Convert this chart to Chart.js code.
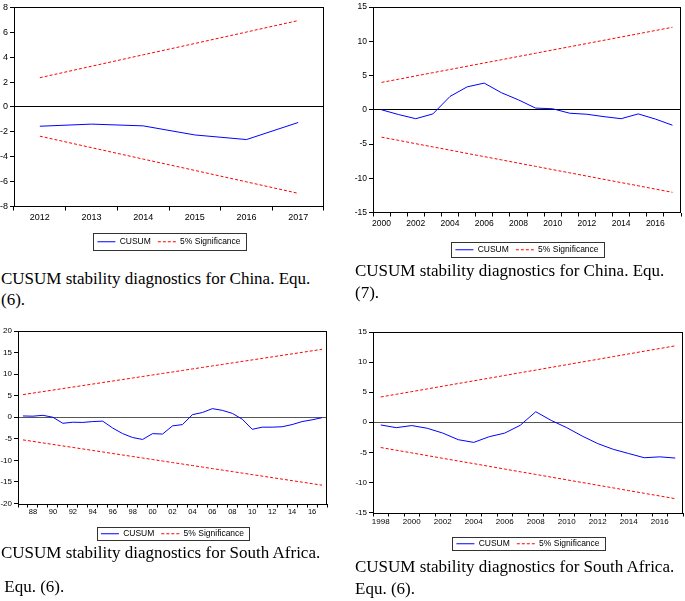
<!DOCTYPE html>
<html>
<head>
<meta charset="utf-8">
<script src="https://cdn.jsdelivr.net/npm/chart.js@4.4.0/dist/chart.umd.min.js"></script>
<style>
  body { margin: 0; background: #fff; }
  #page { position: relative; width: 685px; height: 601px; overflow: hidden; background: #fff; }
  .panel { position: absolute; }
  .caption {
    position: absolute;
    font-family: "Liberation Serif", "Times New Roman", serif;
    font-size: 17px;
    line-height: 17px;
    color: #000;
    white-space: pre;
  }
</style>
</head>
<body>
<div id="page">
  <div class="panel" style="left:0px;top:0px;width:340px;height:256px"><canvas id="chinaEq6"></canvas></div>
  <div class="panel" style="left:340px;top:0px;width:345px;height:264px"><canvas id="chinaEq7"></canvas></div>
  <div class="panel" style="left:0px;top:320px;width:340px;height:228px"><canvas id="saEq6a"></canvas></div>
  <div class="panel" style="left:340px;top:320px;width:345px;height:238px"><canvas id="saEq6b"></canvas></div>

  <div class="caption" style="left:1px;top:270px">CUSUM stability diagnostics for China. Equ.</div>
  <div class="caption" style="left:1px;top:291px">(6).</div>
  <div class="caption" style="left:355px;top:262px">CUSUM stability diagnostics for China. Equ.</div>
  <div class="caption" style="left:355px;top:284px">(7).</div>
  <div class="caption" style="left:1px;top:544px">CUSUM stability diagnostics for South Africa.</div>
  <div class="caption" style="left:0px;top:578px"> Equ. (6).</div>
  <div class="caption" style="left:355px;top:558px">CUSUM stability diagnostics for South Africa.</div>
  <div class="caption" style="left:355px;top:580px">Equ. (6).</div>
</div>

<script>
// China, Equ. (6)
const chinaEq6Years = ['2012', '2013', '2014', '2015', '2016', '2017'];
const chinaEq6Cusum = [-1.55, -1.38, -1.52, -2.25, -2.62, -1.25];
const chinaEq6Upper = [2.35, 3.27, 4.19, 5.10, 6.02, 6.94];
const chinaEq6Lower = [-2.35, -3.27, -4.19, -5.10, -6.02, -6.94];

// China, Equ. (7)
const chinaEq7Years = ['2000', '2001', '2002', '2003', '2004', '2005', '2006', '2007', '2008',
  '2009', '2010', '2011', '2012', '2013', '2014', '2015', '2016', '2017'];
const chinaEq7Cusum = [0.0, -0.7, -1.3, -0.6, 1.95, 3.35, 3.9, 2.5, 1.45,
  0.25, 0.15, -0.5, -0.65, -1.0, -1.3, -0.6, -1.35, -2.25];
const chinaEq7Upper = [4.00, 4.47, 4.95, 5.42, 5.89, 6.37, 6.84, 7.31, 7.79,
  8.26, 8.74, 9.21, 9.68, 10.16, 10.63, 11.10, 11.58, 12.05];
const chinaEq7Lower = [-4.00, -4.47, -4.95, -5.42, -5.89, -6.37, -6.84, -7.31, -7.79,
  -8.26, -8.74, -9.21, -9.68, -10.16, -10.63, -11.10, -11.58, -12.05];

// South Africa, Equ. (6), 1987-2017
const saEq6aYears = ['1987', '1988', '1989', '1990', '1991', '1992', '1993', '1994', '1995', '1996',
  '1997', '1998', '1999', '2000', '2001', '2002', '2003', '2004', '2005', '2006',
  '2007', '2008', '2009', '2010', '2011', '2012', '2013', '2014', '2015', '2016', '2017'];
const saEq6aCusum = [0.3, 0.25, 0.45, 0.0, -1.4, -1.15, -1.2, -1.0, -0.9, -2.5,
  -3.8, -4.7, -5.15, -3.8, -3.9, -2.0, -1.7, 0.6, 1.1, 2.0,
  1.6, 0.9, -0.45, -2.8, -2.3, -2.3, -2.2, -1.7, -1.0, -0.6, -0.1];
const saEq6aUpper = [5.25, 5.60, 5.95, 6.30, 6.65, 7.00, 7.35, 7.70, 8.05, 8.40,
  8.75, 9.10, 9.45, 9.80, 10.15, 10.50, 10.85, 11.20, 11.55, 11.90,
  12.25, 12.60, 12.95, 13.30, 13.65, 14.00, 14.35, 14.70, 15.05, 15.40, 15.75];
const saEq6aLower = [-5.25, -5.60, -5.95, -6.30, -6.65, -7.00, -7.35, -7.70, -8.05, -8.40,
  -8.75, -9.10, -9.45, -9.80, -10.15, -10.50, -10.85, -11.20, -11.55, -11.90,
  -12.25, -12.60, -12.95, -13.30, -13.65, -14.00, -14.35, -14.70, -15.05, -15.40, -15.75];

// South Africa, Equ. (6), 1998-2017
const saEq6bYears = ['1998', '1999', '2000', '2001', '2002', '2003', '2004', '2005', '2006', '2007',
  '2008', '2009', '2010', '2011', '2012', '2013', '2014', '2015', '2016', '2017'];
const saEq6bCusum = [-0.45, -0.9, -0.55, -1.0, -1.8, -2.9, -3.35, -2.4, -1.8, -0.5,
  1.75, 0.3, -0.9, -2.3, -3.55, -4.5, -5.2, -5.9, -5.75, -5.95];
const saEq6bUpper = [4.20, 4.65, 5.09, 5.54, 5.99, 6.44, 6.88, 7.33, 7.78, 8.23,
  8.67, 9.12, 9.57, 10.02, 10.46, 10.91, 11.36, 11.81, 12.25, 12.70];
const saEq6bLower = [-4.20, -4.65, -5.09, -5.54, -5.99, -6.44, -6.88, -7.33, -7.78, -8.23,
  -8.67, -9.12, -9.57, -10.02, -10.46, -10.91, -11.36, -11.81, -12.25, -12.70];

// Legend text
const legendNames = ['CUSUM', '5% Significance'];

// Draws the box round the plot area and round the legend, EViews style
const framePlugin = {
  id: 'frame',
  afterDraw(chart, args, opts) {
    const ctx = chart.ctx;
    const a = chart.chartArea;
    ctx.save();
    ctx.strokeStyle = '#000';
    ctx.lineWidth = 1;
    ctx.setLineDash([]);
    ctx.strokeRect(Math.round(a.left) + 0.5, Math.round(a.top) + 0.5,
      Math.round(a.right - a.left) - 1, Math.round(a.bottom - a.top));

    const boxes = chart.legend && chart.legend.legendHitBoxes;
    if (boxes && boxes.length) {
      const first = boxes[0];
      const last = boxes[boxes.length - 1];
      const cy = first.top + first.height / 2;
      const left = Math.round(first.left - 4) + 0.5;
      const right = Math.round(last.left + last.width + 5) + 0.5;
      const h = opts.boxHeight || 15;
      ctx.strokeStyle = '#333';
      ctx.strokeRect(left, Math.round(cy - h / 2) + 0.5, right - left, h);
    }
    ctx.restore();
  }
};

// point-style legend items lose the dataset dash, so put it back
function legendLabels(chart) {
  const items = Chart.defaults.plugins.legend.labels.generateLabels(chart);
  items.forEach(item => {
    const ds = chart.data.datasets[item.datasetIndex];
    item.lineDash = ds.borderDash || [];
    item.strokeStyle = ds.borderColor;
    item.lineWidth = 1;
  });
  return items.filter(item => item.datasetIndex < 2);
}

function makeChart(id, cfg) {
  const ctx = document.getElementById(id).getContext('2d');
  return new Chart(ctx, {
    type: 'line',
    data: {
      labels: cfg.years,
      datasets: [{
        label: legendNames[0],
        data: cfg.cusum,
        borderColor: '#0000ff',
        borderWidth: 1,
        pointRadius: 0,
        tension: 0
      }, {
        label: legendNames[1],
        data: cfg.upper,
        borderColor: '#ff0000',
        borderWidth: 1,
        borderDash: [3, 2],
        pointRadius: 0,
        tension: 0
      }, {
        label: legendNames[1],
        data: cfg.lower,
        borderColor: '#ff0000',
        borderWidth: 1,
        borderDash: [3, 2],
        pointRadius: 0,
        tension: 0
      }]
    },
    options: {
      responsive: true,
      maintainAspectRatio: false,
      animation: false,
      layout: { padding: { left: 0, right: cfg.padRight, top: cfg.padTop, bottom: 0 } },
      plugins: {
        tooltip: { enabled: false },
        frame: { boxHeight: cfg.legendBox },
        legend: {
          position: 'bottom',
          fullSize: false,
          labels: {
            generateLabels: legendLabels,
            usePointStyle: true,
            pointStyle: 'line',
            pointStyleWidth: 18,
            boxHeight: 8,
            padding: 7,
            color: '#000',
            font: { family: 'Liberation Sans, Arial, sans-serif', size: 8.5 }
          }
        }
      },
      scales: {
        x: {
          offset: true,
          border: { display: false },
          grid: {
            offset: true,
            drawOnChartArea: false,
            tickLength: 4,
            color: '#000',
            tickColor: '#000'
          },
          ticks: {
            autoSkip: false,
            maxRotation: 0,
            padding: cfg.xPad,
            color: '#000',
            font: { family: 'Liberation Sans, Arial, sans-serif', size: cfg.xFont },
            callback: function(val) {
              const y = this.getLabelForValue(val);
              if (Number(y) % cfg.every !== 0) return '';
              return cfg.short ? y.slice(2) : y;
            }
          },
          afterFit: s => { s.height = cfg.xHeight; }
        },
        y: {
          min: cfg.yMin,
          max: cfg.yMax,
          border: { display: false },
          grid: {
            color: c => (c.tick && c.tick.value === 0) ? cfg.zeroColor : 'transparent',
            tickColor: '#000',
            tickLength: 4,
            lineWidth: 1
          },
          ticks: {
            stepSize: cfg.yStep,
            padding: 2,
            color: '#000',
            font: { family: 'Liberation Sans, Arial, sans-serif', size: cfg.yFont }
          },
          afterFit: s => { s.width = cfg.yWidth; }
        }
      }
    },
    plugins: [framePlugin]
  });
}

makeChart('chinaEq6', {
  years: chinaEq6Years, cusum: chinaEq6Cusum, upper: chinaEq6Upper, lower: chinaEq6Lower,
  yMin: -8, yMax: 8, yStep: 2, every: 1, short: false,
  padTop: 6, padRight: 16, yWidth: 14, xHeight: 24, xPad: 2,
  xFont: 9, yFont: 9, zeroColor: '#000', legendBox: 17
});

makeChart('chinaEq7', {
  years: chinaEq7Years, cusum: chinaEq7Cusum, upper: chinaEq7Upper, lower: chinaEq7Lower,
  yMin: -15, yMax: 15, yStep: 5, every: 2, short: false,
  padTop: 7, padRight: 4, yWidth: 33, xHeight: 26, xPad: 2,
  xFont: 8.5, yFont: 8.5, zeroColor: '#000', legendBox: 15
});

makeChart('saEq6a', {
  years: saEq6aYears, cusum: saEq6aCusum, upper: saEq6aUpper, lower: saEq6aLower,
  yMin: -20, yMax: 20, yStep: 5, every: 2, short: true,
  padTop: 11, padRight: 13, yWidth: 18, xHeight: 19, xPad: 0,
  xFont: 7.5, yFont: 8, zeroColor: '#555', legendBox: 13
});

makeChart('saEq6b', {
  years: saEq6bYears, cusum: saEq6bCusum, upper: saEq6bUpper, lower: saEq6bLower,
  yMin: -15, yMax: 15, yStep: 5, every: 2, short: false,
  padTop: 12, padRight: 2, yWidth: 33, xHeight: 20, xPad: 0,
  xFont: 8, yFont: 8, zeroColor: '#555', legendBox: 13
});
</script>
</body>
</html>
